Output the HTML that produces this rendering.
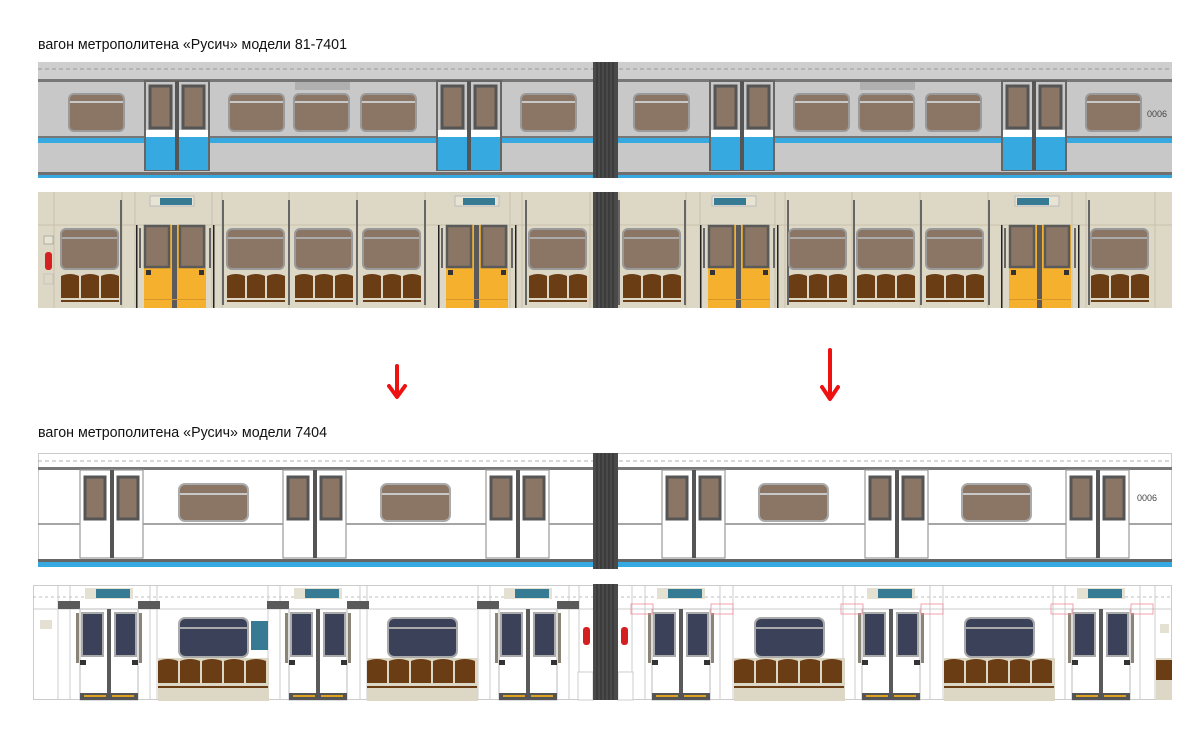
<!DOCTYPE html>
<html><head><meta charset="utf-8"><style>
html,body{margin:0;padding:0;background:#fff;width:1200px;height:735px;overflow:hidden}
svg{display:block}
.t{font-family:"Liberation Sans Narrow","Liberation Sans",sans-serif;font-size:15px;fill:#111}
</style></head><body>
<svg width="1200" height="735" viewBox="0 0 1200 735" xmlns="http://www.w3.org/2000/svg">
<defs>
  <g id="ew">
    <rect x="1" y="1" width="55" height="37" rx="5" fill="#8b7666" stroke="#9a9a9a" stroke-width="2"/>
    <rect x="2" y="8" width="53" height="2" fill="#c8c8c8"/>
  </g>
  <g id="ed">
    <rect x="0" y="0" width="64" height="89" fill="#c8c8c8" stroke="#666" stroke-width="2"/>
    <rect x="1" y="49" width="62" height="7" fill="#fff"/>
    <rect x="1" y="56" width="62" height="33" fill="#36a9e0"/>
    <rect x="30" y="0" width="4" height="89" fill="#555"/>
    <rect x="5" y="5" width="21" height="42" fill="#8b7666" stroke="#555" stroke-width="3"/>
    <rect x="38" y="5" width="21" height="42" fill="#8b7666" stroke="#555" stroke-width="3"/>
  </g>
  <g id="iw">
    <rect x="1" y="1" width="57" height="40" rx="5" fill="#8b7666" stroke="#9a9a9a" stroke-width="2"/>
    <rect x="2" y="9" width="55" height="2" fill="#aaa"/>
    <path d="M1 48 q9-4 18 0 v22 h-18z M21 48 q9-4 18 0 v22 h-18z M41 48 q9-4 18 0 v22 h-18z" fill="#6b3d15"/>
    <rect x="1" y="72" width="58" height="2" fill="#6b3d15"/>
  </g>
  <g id="idr">
    <rect x="-8" y="0" width="1.5" height="83" fill="#222"/>
    <rect x="69" y="0" width="1.5" height="83" fill="#222"/>
    <rect x="0" y="0" width="62" height="83" fill="#f5b12e"/>
    <rect x="28" y="0" width="5" height="83" fill="#5a5a5a"/>
    <rect x="1" y="1" width="24" height="41" fill="#8b7666" stroke="#5a5a5a" stroke-width="2.5"/>
    <rect x="36" y="1" width="24" height="41" fill="#8b7666" stroke="#5a5a5a" stroke-width="2.5"/>
    <rect x="2" y="45" width="5" height="5" fill="#333"/>
    <rect x="55" y="45" width="5" height="5" fill="#333"/>
    <rect x="0" y="74" width="62" height="1" fill="#d9962a"/>
    <rect x="-5" y="3" width="2" height="40" fill="#666"/>
    <rect x="65" y="3" width="2" height="40" fill="#666"/>
  </g>
  <g id="fd">
    <rect x="0" y="0" width="63" height="88" fill="#fff" stroke="#999" stroke-width="1.2"/>
    <rect x="30" y="0" width="4" height="88" fill="#555"/>
    <rect x="5" y="7" width="20" height="42" fill="#8b7666" stroke="#555" stroke-width="3"/>
    <rect x="38" y="7" width="20" height="42" fill="#8b7666" stroke="#555" stroke-width="3"/>
  </g>
  <g id="fw">
    <rect x="1" y="1" width="69" height="37" rx="6" fill="#8b7666" stroke="#aaa" stroke-width="2"/>
    <rect x="2" y="10" width="67" height="2" fill="#c8c8c8"/>
  </g>
  <g id="gdb">
    <rect x="0" y="24" width="58" height="91" fill="#fff" stroke="#bbb" stroke-width="1"/>
    <rect x="27" y="24" width="4" height="86" fill="#5a5a5a"/>
    <rect x="2" y="28" width="21" height="43" fill="#3a4159" stroke="#aaa" stroke-width="2"/>
    <rect x="35" y="28" width="21" height="43" fill="#3a4159" stroke="#aaa" stroke-width="2"/>
    <rect x="0" y="75" width="6" height="5" fill="#333"/>
    <rect x="52" y="75" width="6" height="5" fill="#333"/>
    <rect x="0" y="108" width="58" height="7" fill="#555"/>
    <rect x="4" y="110" width="22" height="2" fill="#e0a020"/>
    <rect x="32" y="110" width="22" height="2" fill="#e0a020"/>
    <rect x="-4" y="28" width="3" height="50" fill="#8a8576"/>
    <rect x="59" y="28" width="3" height="50" fill="#8a8576"/>
    <rect x="5" y="3" width="48" height="11" fill="#e5e1d2"/>
    <rect x="16" y="4" width="34" height="9" fill="#367a93"/>
  </g>
  <g id="gd">
    <rect x="-22" y="16" width="22" height="8" fill="#5a5a5a"/>
    <rect x="58" y="16" width="22" height="8" fill="#5a5a5a"/>
    <use href="#gdb"/>
  </g>
  <g id="gw">
    <rect x="-20" y="41" width="111" height="43" fill="#dcd8c5"/>
    <rect x="1" y="1" width="69" height="39" rx="6" fill="#3a4159" stroke="#aaa" stroke-width="2"/>
    <rect x="2" y="10" width="67" height="2" fill="#aaa"/>
    <path d="M-20 44 q10-4 20 0 v22 h-20z M2 44 q10-4 20 0 v22 h-20z M24 44 q10-4 20 0 v22 h-20z M46 44 q10-4 20 0 v22 h-20z M68 44 q10-4 20 0 v22 h-20z" fill="#6b3d15"/>
    <rect x="-20" y="69" width="110" height="2" fill="#6b3d15"/>
  </g>
  <g id="cp">
    <rect x="0" y="0" width="25" height="116" fill="#4a4a4a"/>
    <path d="M4 0v116M8 0v116M12 0v116M16 0v116M20 0v116" stroke="#2e2e2e" stroke-width="1"/>
  </g>
</defs>

<text class="t" x="38" y="49" textLength="309" lengthAdjust="spacingAndGlyphs">вагон метрополитена «Русич» модели 81-7401</text>
<text class="t" x="38" y="437" textLength="289" lengthAdjust="spacingAndGlyphs">вагон метрополитена «Русич» модели 7404</text>

<!-- ROW 1 -->
<rect x="38" y="62" width="1134" height="116" fill="#c8c8c8"/>
<rect x="38" y="62" width="1134" height="17" fill="#cecece"/>
<line x1="38" y1="69" x2="1172" y2="69" stroke="#8a8a8a" stroke-dasharray="4 3" stroke-width="0.8"/>
<rect x="38" y="79" width="1134" height="3" fill="#777"/>
<rect x="38" y="136" width="1134" height="2" fill="#777"/>
<rect x="38" y="138" width="1134" height="5" fill="#36a9e0"/>
<rect x="38" y="172" width="1134" height="3" fill="#6f6f6f"/>
<rect x="38" y="175" width="1134" height="3" fill="#36a9e0"/>
<g fill="#b0b0b0"><rect x="295" y="82" width="55" height="8"/><rect x="860" y="82" width="55" height="8"/></g>
<use href="#ew" x="68" y="93"/><use href="#ew" x="228" y="93"/><use href="#ew" x="293" y="93"/><use href="#ew" x="360" y="93"/><use href="#ew" x="520" y="93"/>
<use href="#ed" x="145" y="81"/><use href="#ed" x="437" y="81"/>
<use href="#ew" x="633" y="93"/><use href="#ew" x="793" y="93"/><use href="#ew" x="858" y="93"/><use href="#ew" x="925" y="93"/><use href="#ew" x="1085" y="93"/>
<use href="#ed" x="710" y="81"/><use href="#ed" x="1002" y="81"/>
<text x="1147" y="117" font-family="Liberation Sans" font-size="9" fill="#444">0006</text>
<use href="#cp" x="593" y="62"/>

<!-- ROW 2 -->
<rect x="38" y="192" width="1134" height="116" fill="#ddd8c5"/>
<line x1="38" y1="225" x2="1172" y2="225" stroke="#c6c1ac"/>
<g stroke="#c6c1ac">
<path d="M54 192v116M122 192v116M135 192v116M212 192v116M222 192v116M289 192v116M357 192v116M425 192v116M510 192v116M522 192v116M590 192v116"/>
<path d="M619 192v116M686 192v116M700 192v116M775 192v116M785 192v116M852 192v116M920 192v116M988 192v116M1072 192v116M1086 192v116M1155 192v116"/>
</g>
<g fill="#666">
<rect x="120" y="200" width="2" height="105"/><rect x="222" y="200" width="2" height="105"/><rect x="288" y="200" width="2" height="105"/><rect x="356" y="200" width="2" height="105"/><rect x="424" y="200" width="2" height="105"/><rect x="525" y="200" width="2" height="105"/>
<rect x="618" y="200" width="2" height="105"/><rect x="684" y="200" width="2" height="105"/><rect x="787" y="200" width="2" height="105"/><rect x="853" y="200" width="2" height="105"/><rect x="920" y="200" width="2" height="105"/><rect x="988" y="200" width="2" height="105"/><rect x="1088" y="200" width="2" height="105"/>
</g>
<g><rect x="150" y="196" width="44" height="10" fill="#e8e4d4" stroke="#bbb"/><rect x="160" y="198" width="32" height="7" fill="#367a93"/>
<rect x="455" y="196" width="44" height="10" fill="#e8e4d4" stroke="#bbb"/><rect x="463" y="198" width="32" height="7" fill="#367a93"/>
<rect x="712" y="196" width="44" height="10" fill="#e8e4d4" stroke="#bbb"/><rect x="714" y="198" width="32" height="7" fill="#367a93"/>
<rect x="1015" y="196" width="44" height="10" fill="#e8e4d4" stroke="#bbb"/><rect x="1017" y="198" width="32" height="7" fill="#367a93"/></g>
<use href="#iw" x="60" y="228"/><use href="#iw" x="226" y="228"/><use href="#iw" x="294" y="228"/><use href="#iw" x="362" y="228"/><use href="#iw" x="528" y="228"/>
<use href="#iw" x="622" y="228"/><use href="#iw" x="788" y="228"/><use href="#iw" x="856" y="228"/><use href="#iw" x="925" y="228"/><use href="#iw" x="1090" y="228"/>
<use href="#idr" x="144" y="225"/><use href="#idr" x="446" y="225"/><use href="#idr" x="708" y="225"/><use href="#idr" x="1009" y="225"/>
<rect x="45" y="252" width="7" height="18" rx="3" fill="#d42020"/>
<rect x="44" y="236" width="9" height="8" fill="#e8e4d4" stroke="#999" stroke-width="0.7"/>
<rect x="44" y="274" width="9" height="10" fill="none" stroke="#bbb" stroke-width="0.7"/>
<use href="#cp" x="593" y="192"/>

<g stroke="#ee1111" stroke-width="4" fill="none" stroke-linecap="round" stroke-linejoin="round">
<path d="M397 366v30M389 386l8 11 8-11"/>
<path d="M830 350v48M822 387l8 12 8-12"/>
</g>

<!-- ROW 3 -->
<rect x="38.5" y="453.5" width="1133" height="113" fill="#fff" stroke="#ccc"/>
<line x1="38" y1="461" x2="1172" y2="461" stroke="#999" stroke-dasharray="4 3" stroke-width="0.8"/>
<rect x="38" y="467" width="1134" height="3" fill="#777"/>
<line x1="38" y1="524" x2="1172" y2="524" stroke="#888" stroke-width="1.5"/>
<rect x="38" y="559" width="1134" height="3" fill="#666"/>
<rect x="38" y="562" width="1134" height="5" fill="#36a9e0"/>
<use href="#fd" x="80" y="470"/><use href="#fd" x="283" y="470"/><use href="#fd" x="486" y="470"/>
<use href="#fd" x="662" y="470"/><use href="#fd" x="865" y="470"/><use href="#fd" x="1066" y="470"/>
<use href="#fw" x="178" y="483"/><use href="#fw" x="380" y="483"/><use href="#fw" x="758" y="483"/><use href="#fw" x="961" y="483"/>
<text x="1137" y="501" font-family="Liberation Sans" font-size="9" fill="#444">0006</text>
<use href="#cp" x="593" y="453"/>

<!-- ROW 4 -->
<rect x="33.5" y="585.5" width="1138" height="114" fill="#fff" stroke="#ccc"/>
<line x1="33" y1="597" x2="1172" y2="597" stroke="#aaa" stroke-dasharray="3 3" stroke-width="0.8"/>
<line x1="33" y1="609" x2="1172" y2="609" stroke="#ccc"/>
<g stroke="#ccc"><path d="M58 585v115M70 585v115M150 585v115M157 585v115M268 585v115M280 585v115M360 585v115M367 585v115M478 585v115M490 585v115M569 585v115M579 585v115M632 585v115M645 585v115M720 585v115M733 585v115M843 585v115M855 585v115M930 585v115M943 585v115M1053 585v115M1065 585v115M1140 585v115M1155 585v115"/></g>
<use href="#gw" x="178" y="617"/><use href="#gw" x="387" y="617"/><use href="#gw" x="754" y="617"/><use href="#gw" x="964" y="617"/>
<rect x="251" y="621" width="17" height="29" fill="#367a93"/>
<rect x="1156" y="658" width="16" height="42" fill="#dcd8c5"/><rect x="1156" y="660" width="16" height="20" fill="#6b3d15"/>
<use href="#gd" x="80" y="585"/><use href="#gd" x="289" y="585"/><use href="#gd" x="499" y="585"/>
<use href="#gdb" x="652" y="585"/><use href="#gdb" x="862" y="585"/><use href="#gdb" x="1072" y="585"/>
<g fill="none" stroke="#f08a9a" stroke-width="0.8"><rect x="631" y="604" width="22" height="10"/><rect x="711" y="604" width="22" height="10"/><rect x="841" y="604" width="22" height="10"/><rect x="921" y="604" width="22" height="10"/><rect x="1051" y="604" width="22" height="10"/><rect x="1131" y="604" width="22" height="10"/></g>
<rect x="40" y="620" width="12" height="9" fill="#e5e1d2"/>
<rect x="1160" y="624" width="9" height="9" fill="#e5e1d2"/>
<rect x="583" y="627" width="7" height="18" rx="3" fill="#d42020"/>
<rect x="621" y="627" width="7" height="18" rx="3" fill="#d42020"/>
<rect x="578" y="672" width="15" height="28" fill="#fff" stroke="#ccc"/>
<rect x="618" y="672" width="15" height="28" fill="#fff" stroke="#ccc"/>
<use href="#cp" x="593" y="584"/>
</svg>
</body></html>
